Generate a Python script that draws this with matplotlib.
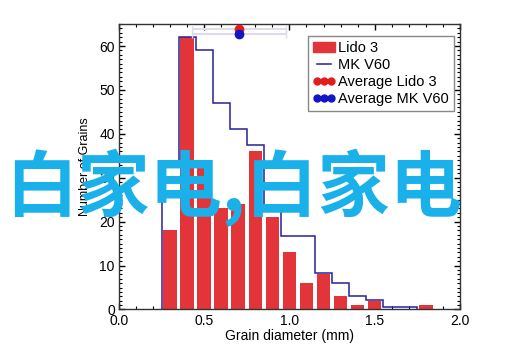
import matplotlib
matplotlib.use("Agg")
import matplotlib.pyplot as plt
from matplotlib.lines import Line2D
from matplotlib.patches import Patch
from matplotlib.ticker import MultipleLocator

plt.rcParams['font.family'] = ['Liberation Sans', 'DejaVu Sans']

# Lido 3 histogram (bar centres / counts)
lido_centers = [0.3, 0.4, 0.5, 0.6, 0.7, 0.8, 0.9, 1.0, 1.1, 1.2, 1.3, 1.4, 1.5, 1.6, 1.7, 1.8]
lido_counts = [18, 62, 33, 23, 24, 36, 21, 13, 6, 8, 3, 1, 2, 0, 0, 1]

# MK V60 histogram (step outline)
mk_edges = [0.25, 0.35, 0.45, 0.55, 0.65, 0.75, 0.85, 0.95, 1.05, 1.15, 1.25, 1.35, 1.45, 1.55, 1.65, 1.75]
mk_counts = [33.5, 62, 59, 47, 41, 37.5, 23.3, 16.7, 16.7, 8.3, 6, 3, 2.1, 0.6, 0.6]

# averages with spread
avg_lido = (0.705, 63.8)
avg_mk = (0.705, 62.7)
avg_xerr = 0.275

red = '#e3343a'
navy = '#25229a'
dot_red = '#e11d1d'
dot_blue = '#1414c4'

fig = plt.figure(figsize=(5.15, 3.59), dpi=100)
ax = fig.add_axes([0.231, 0.138, 0.662, 0.795])

ax.bar(lido_centers, lido_counts, width=0.08, color=red, zorder=2)
ax.stairs(mk_counts, mk_edges, color=navy, linewidth=1.1, zorder=3)

ax.errorbar(avg_lido[0], avg_lido[1], xerr=avg_xerr, fmt='none', ecolor='#e4dde6',
            elinewidth=1.5, capsize=3, zorder=3)
ax.errorbar(avg_mk[0], avg_mk[1], xerr=avg_xerr, fmt='none', ecolor='#dcdcec',
            elinewidth=1.5, capsize=3, zorder=3)
ax.plot(avg_lido[0], avg_lido[1], 'o', color=dot_red, ms=6, zorder=4, clip_on=False)
ax.plot(avg_mk[0], avg_mk[1], 'o', color=dot_blue, ms=6, zorder=5, clip_on=False)

ax.set_xlim(0, 2.0)
ax.set_ylim(0, 65)
ax.xaxis.set_major_locator(MultipleLocator(0.5))
ax.xaxis.set_minor_locator(MultipleLocator(0.1))
ax.yaxis.set_major_locator(MultipleLocator(10))
ax.yaxis.set_minor_locator(MultipleLocator(1))
ax.xaxis.set_major_formatter(plt.FormatStrFormatter('%.1f'))
ax.tick_params(which='both', direction='in', top=True, right=True, labelsize=10, pad=3)
ax.tick_params(which='major', length=4, width=1)
ax.tick_params(which='minor', length=2.5, width=0.8)
for s in ax.spines.values():
    s.set_color('#333333')
    s.set_linewidth(1)

ax.set_xlabel('Grain diameter (mm)', fontsize=10, labelpad=1)
ax.set_ylabel('Number of Grains', fontsize=9, labelpad=6)

handles = [Patch(color=red),
           Line2D([], [], color=navy, lw=1.1),
           Line2D([], [], marker='o', ls='none', color=dot_red, ms=5),
           Line2D([], [], marker='o', ls='none', color=dot_blue, ms=5)]
labels = ['Lido 3', 'MK V60', 'Average Lido 3', 'Average MK V60']
leg = ax.legend(handles, labels, loc='upper right', bbox_to_anchor=(0.982, 0.958),
                fontsize=10.5, numpoints=3, handlelength=1.5, handletextpad=0.2,
                labelspacing=0.2, borderpad=0.35, fancybox=False, framealpha=1,
                borderaxespad=0)
leg.get_frame().set_edgecolor('#888888')
leg.get_frame().set_linewidth(1)

# watermark across the picture
fig.text(0.453, 0.476, '白家电,白家电', fontsize=52, fontweight='black', color='#1ab0ea',
         family=['Noto Sans CJK SC', 'DejaVu Sans'], ha='center', va='center', zorder=10)

fig.savefig('out.png', dpi=100)
